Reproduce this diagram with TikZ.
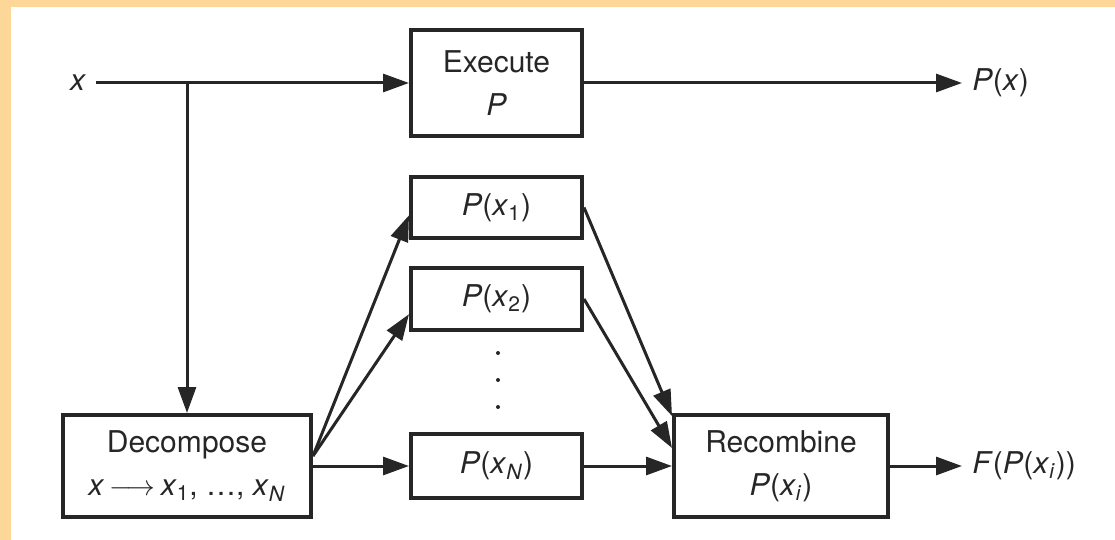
\documentclass[tikz,border=0pt]{standalone}
\usepackage{fontspec}
\setmainfont{TeX Gyre Heros}
\usetikzlibrary{arrows.meta,calc}
\definecolor{peach}{HTML}{FDD797}
\definecolor{ink}{HTML}{262626}
\newcommand\mi[1]{\textit{#1}}
\begin{document}
\begin{tikzpicture}[x=0.5pt,y=-0.5pt,
  box/.style={draw=ink, line width=2pt, fill=white, inner sep=0pt, align=center,
    font=\fontsize{15}{21.5}\selectfont, text=ink},
  lab/.style={font=\fontsize{15}{18}\selectfont, text=ink, inner sep=5pt},
  arr/.style={draw=ink, line width=1.5pt, -{Triangle[length=13pt,width=9pt]}}]
\fill[peach] (0,0) rectangle (1115,540);
\fill[white] (11,7) rectangle (1115,540);
\useasboundingbox (0,0) rectangle (1115,540);

\node[box, minimum width=85.5pt, minimum height=53pt] (exec) at (496.5,83) {Execute\\\mi{P}};
\node[box, minimum width=85.5pt, minimum height=30.5pt] (p1) at (496.5,207.5) {\mi{P}(\mi{x}\textsubscript{1})};
\node[box, minimum width=85.5pt, minimum height=31pt] (p2) at (496.5,299) {\mi{P}(\mi{x}\textsubscript{2})};
\node[box, minimum width=85.5pt, minimum height=32pt] (pN) at (496.5,466) {\mi{P}(\mi{x}\textsubscript{\mi{N}})};
\node[box, minimum width=124pt, minimum height=51pt] (dec) at (187,466)
  {Decompose\\\mi{x}\,$\longrightarrow$\,\mi{x}\textsubscript{1}, \dots, \mi{x}\textsubscript{\mi{N}}};
\node[box, minimum width=107pt, minimum height=51pt] (rec) at (781,466)
  {Recombine\\\mi{P}(\mi{x}\textsubscript{\mi{i}})};

\node[lab] (xin) at (78,83) {\mi{x}};
\node[lab, anchor=west] (px) at (962,83) {\mi{P}(\mi{x})};
\node[lab, anchor=west] (fp) at (962,466) {\mi{F}(\mi{P}(\mi{x}\textsubscript{\mi{i}}))};

\fill[ink] (498,353) circle (1pt);
\fill[ink] (498,380) circle (1pt);
\fill[ink] (498,407) circle (1pt);

\coordinate (br) at (dec.north |- exec.west);
\coordinate (ds) at ($(dec.east)+(0,-10)$);
\draw[arr] (xin.east) -- (exec.west);
\draw[arr] (br) -- (dec.north);
\draw[arr] (exec.east) -- (px.west);
\draw[arr] (ds) -- ($(p1.south west)!0.38!(p1.north west)$);
\draw[arr] (ds) -- ($(p2.south west)!0.27!(p2.north west)$);
\draw[arr] (dec.east) -- (pN.west);
\draw[arr] (p1.east) -- ($(rec.north west)+(0,3)$);
\draw[arr] (p2.east) -- ($(rec.west)+(0,-18)$);
\draw[arr] (pN.east) -- (rec.west);
\draw[arr] (rec.east) -- (fp.west);
\end{tikzpicture}
\end{document}
